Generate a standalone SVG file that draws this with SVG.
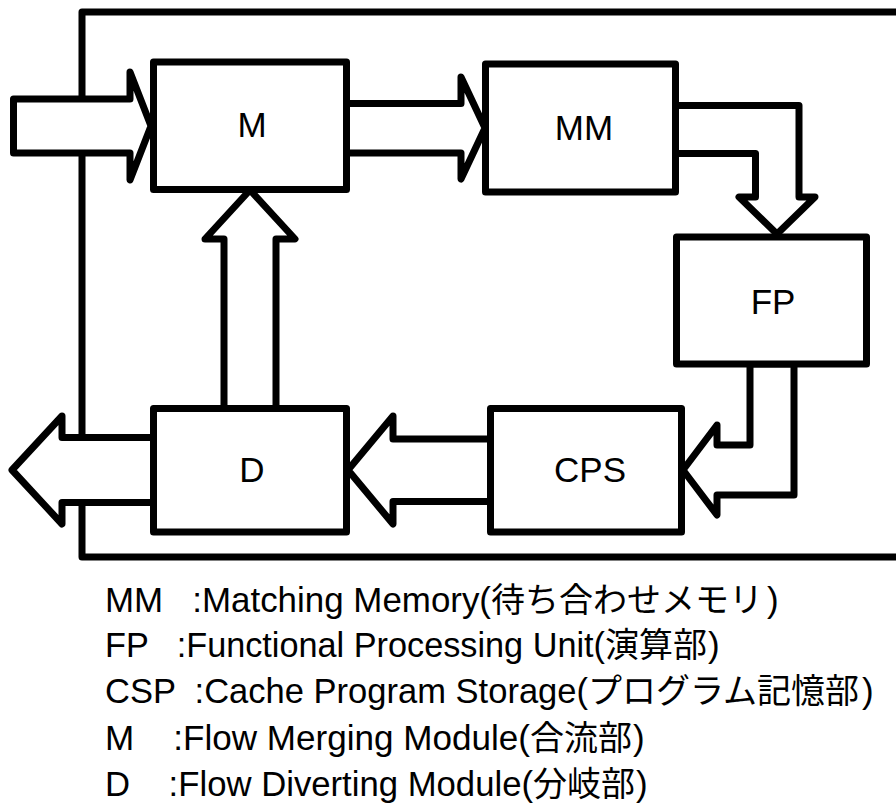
<svg xmlns="http://www.w3.org/2000/svg" width="896" height="807" viewBox="0 0 896 807">
  <style>
    .frame { fill: none; stroke: #000; stroke-width: 7; stroke-linejoin: round; }
    .box { fill: #fff; stroke: #000; stroke-width: 7; stroke-linejoin: round; }
    .arrow { fill: #fff; stroke: #000; stroke-width: 7; stroke-linejoin: round; }
    .label { font-family: "Liberation Sans", Arial, "Noto Sans CJK JP", sans-serif; font-size: 35px; fill: #000; text-anchor: middle; }
    .legend { font-family: "Liberation Sans", Arial, "Noto Sans CJK JP", sans-serif; font-size: 35px; fill: #000; white-space: pre; }
    .cjk { font-family: "Noto Sans CJK JP", sans-serif; font-size: 34px; }
  </style>
  <rect width="896" height="807" fill="#fff"/>

  <path id="frame" class="frame" d="M 910 12 H 82 V 557 H 910"/>

  <g id="connectors">
    <polygon id="in-to-M" class="arrow" points="13.5,99 130,99 130,72 151,126 130,180 130,153 13.5,153"/>
    <polygon id="M-to-MM" class="arrow" points="346.5,103.5 461,103.5 461,77 485,128 461,179 461,153 346.5,153"/>
    <polygon id="MM-to-FP" class="arrow" points="675.5,105.5 799,105.5 799,197 815,197 777,234 739,197 755.5,197 755.5,153.5 675.5,153.5"/>
    <polygon id="FP-to-CPS" class="arrow" points="750,364 750,445 717,445 717,425 683,470 717,515 717,495 794,495 794,364"/>
    <polygon id="CPS-to-D" class="arrow" points="490.5,439 393,439 393,416 348,470 393,524 393,501.5 490.5,501.5"/>
    <polygon id="D-to-M" class="arrow" points="224,408.5 224,239 205,239 250,190 295,239 276,239 276,408.5"/>
    <polygon id="D-to-out" class="arrow" points="153.5,437.5 62,437.5 62,416 12,470 62,524 62,502.5 153.5,502.5"/>
  </g>

  <g id="node-M">
    <rect class="box" x="153.5" y="62" width="193" height="127.5"/>
    <text class="label" x="252" y="137">M</text>
  </g>
  <g id="node-MM">
    <rect class="box" x="485.5" y="64" width="190" height="128"/>
    <text class="label" x="584" y="140">MM</text>
  </g>
  <g id="node-FP">
    <rect class="box" x="676.5" y="237" width="190" height="127"/>
    <text class="label" x="773" y="314">FP</text>
  </g>
  <g id="node-CPS">
    <rect class="box" x="490.5" y="408.5" width="191" height="123.5"/>
    <text class="label" x="590" y="482">CPS</text>
  </g>
  <g id="node-D">
    <rect class="box" x="153.5" y="408.5" width="193" height="123.5"/>
    <text class="label" x="252" y="482">D</text>
  </g>

  <g id="legend">
    <text class="legend" xml:space="preserve" y="612"><tspan x="105" textLength="386" lengthAdjust="spacingAndGlyphs">MM   :Matching Memory(</tspan><tspan class="cjk" x="491">待ち合わせメモリ</tspan><tspan x="767">)</tspan></text>
    <text class="legend" xml:space="preserve" y="657"><tspan x="105" textLength="500" lengthAdjust="spacingAndGlyphs">FP   :Functional Processing Unit(</tspan><tspan class="cjk" x="605">演算部</tspan><tspan x="708">)</tspan></text>
    <text class="legend" xml:space="preserve" y="703"><tspan x="105" textLength="483" lengthAdjust="spacingAndGlyphs">CSP  :Cache Program Storage(</tspan><tspan class="cjk" x="588">プログラム記憶部</tspan><tspan x="862">)</tspan></text>
    <text class="legend" xml:space="preserve" y="750"><tspan x="105" textLength="425" lengthAdjust="spacingAndGlyphs">M    :Flow Merging Module(</tspan><tspan class="cjk" x="530">合流部</tspan><tspan x="633">)</tspan></text>
    <text class="legend" xml:space="preserve" y="796"><tspan x="105" textLength="428" lengthAdjust="spacingAndGlyphs">D    :Flow Diverting Module(</tspan><tspan class="cjk" x="533">分岐部</tspan><tspan x="636">)</tspan></text>
  </g>
</svg>
